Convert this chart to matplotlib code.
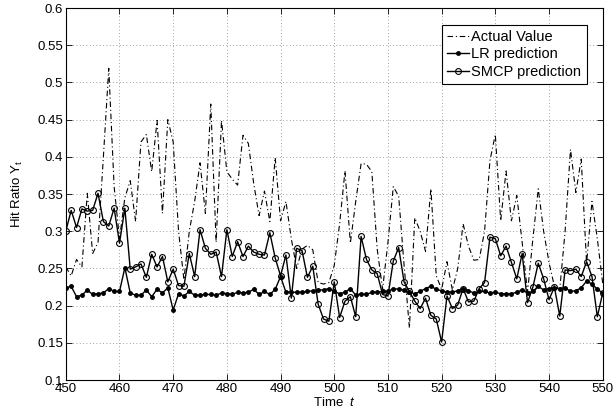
import matplotlib
matplotlib.use("Agg")
import matplotlib.pyplot as plt
from matplotlib.ticker import FuncFormatter, MultipleLocator

t = list(range(450, 551))

actual = [0.252, 0.240, 0.262, 0.252, 0.351, 0.270, 0.285, 0.400, 0.519, 0.360,
          0.290, 0.345, 0.368, 0.313, 0.420, 0.430, 0.380, 0.449, 0.324, 0.450,
          0.420, 0.300, 0.235, 0.300, 0.340, 0.392, 0.324, 0.471, 0.285, 0.449,
          0.380, 0.370, 0.362, 0.429, 0.418, 0.364, 0.321, 0.354, 0.313, 0.399,
          0.314, 0.340, 0.290, 0.250, 0.276, 0.281, 0.275, 0.231, 0.229, 0.231,
          0.254, 0.310, 0.381, 0.284, 0.340, 0.391, 0.390, 0.380, 0.276, 0.222,
          0.285, 0.360, 0.347, 0.255, 0.170, 0.318, 0.300, 0.273, 0.357, 0.240,
          0.222, 0.259, 0.221, 0.250, 0.310, 0.280, 0.261, 0.262, 0.300, 0.395,
          0.430, 0.314, 0.381, 0.314, 0.348, 0.285, 0.218, 0.290, 0.357, 0.300,
          0.258, 0.226, 0.222, 0.300, 0.410, 0.352, 0.397, 0.257, 0.340, 0.290,
          0.230]

lr = [0.224, 0.226, 0.212, 0.214, 0.221, 0.215, 0.216, 0.217, 0.223, 0.219,
      0.219, 0.251, 0.217, 0.214, 0.214, 0.221, 0.212, 0.222, 0.217, 0.224,
      0.194, 0.216, 0.213, 0.219, 0.214, 0.214, 0.215, 0.215, 0.214, 0.217,
      0.216, 0.215, 0.218, 0.217, 0.218, 0.222, 0.215, 0.219, 0.215, 0.222,
      0.239, 0.218, 0.218, 0.218, 0.218, 0.219, 0.220, 0.221, 0.221, 0.223,
      0.219, 0.216, 0.218, 0.223, 0.214, 0.216, 0.215, 0.218, 0.218, 0.219,
      0.219, 0.223, 0.222, 0.221, 0.218, 0.216, 0.219, 0.223, 0.226, 0.222,
      0.220, 0.218, 0.218, 0.220, 0.223, 0.220, 0.217, 0.219, 0.219, 0.217,
      0.218, 0.216, 0.216, 0.216, 0.218, 0.221, 0.217, 0.219, 0.226, 0.221,
      0.223, 0.224, 0.223, 0.224, 0.219, 0.220, 0.224, 0.233, 0.229, 0.222,
      0.217]

smcp = [0.300, 0.328, 0.305, 0.330, 0.327, 0.328, 0.351, 0.313, 0.307, 0.331,
        0.284, 0.331, 0.249, 0.252, 0.256, 0.238, 0.269, 0.252, 0.266, 0.232,
        0.249, 0.227, 0.226, 0.270, 0.239, 0.302, 0.277, 0.269, 0.272, 0.239,
        0.302, 0.266, 0.286, 0.266, 0.280, 0.272, 0.269, 0.268, 0.298, 0.264,
        0.240, 0.268, 0.210, 0.277, 0.274, 0.238, 0.253, 0.202, 0.182, 0.179,
        0.232, 0.184, 0.206, 0.212, 0.185, 0.293, 0.262, 0.248, 0.243, 0.215,
        0.213, 0.260, 0.278, 0.232, 0.219, 0.206, 0.196, 0.210, 0.187, 0.182,
        0.151, 0.213, 0.196, 0.201, 0.223, 0.205, 0.206, 0.223, 0.231, 0.292,
        0.290, 0.267, 0.280, 0.258, 0.236, 0.270, 0.204, 0.225, 0.257, 0.236,
        0.208, 0.225, 0.186, 0.248, 0.247, 0.249, 0.239, 0.259, 0.239, 0.185,
        0.217]

x_ticks = list(range(450, 551, 10))

plt.rcParams['font.family'] = ['Liberation Sans', 'DejaVu Sans']
plt.rcParams['mathtext.fontset'] = 'custom'
plt.rcParams['mathtext.rm'] = 'Liberation Sans'
plt.rcParams['mathtext.it'] = 'Liberation Sans:italic'

fig = plt.figure(figsize=(6.15, 4.17), dpi=100)
ax = fig.add_axes([0.107, 0.0887, 0.873, 0.892])

ax.plot(t, actual, color='black', linestyle=(0, (5, 2.5, 1, 2.5)), linewidth=0.8,
        label='Actual Value')
ax.plot(t, lr, color='black', linestyle='-', linewidth=1.0, marker='.',
        markersize=5, label='LR prediction')
ax.plot(t, smcp, color='black', linestyle='-', linewidth=1.0, marker='o',
        markersize=4.2, markerfacecolor='none', markeredgewidth=0.8,
        label='SMCP prediction')

ax.set_xlim(450, 550)
ax.set_ylim(0.1, 0.6)
ax.set_xticks(x_ticks)
ax.yaxis.set_major_locator(MultipleLocator(0.05))
ax.yaxis.set_major_formatter(FuncFormatter(lambda v, p: f'{v:g}'))
ax.grid(True, linestyle=(0, (1, 3)), color='#808080', linewidth=0.6)
ax.tick_params(direction='in', length=4, labelsize=9.5, top=True, right=True,
               width=0.6, pad=2)
for s in ax.spines.values():
    s.set_linewidth(0.8)

ax.set_xlabel(r'Time  $\it{t}$', fontsize=9.5, labelpad=1)
ax.set_ylabel(r'Hit Ratio Y$_\mathrm{t}$', fontsize=9.5, labelpad=9)

leg = ax.legend(loc='upper right', bbox_to_anchor=(0.970, 0.954), fontsize=10.5,
                frameon=True, fancybox=False, edgecolor='black', framealpha=1,
                handlelength=1.5, handletextpad=0.15, borderpad=0.35,
                labelspacing=0.22, borderaxespad=0)
leg.get_frame().set_linewidth(0.8)

fig.savefig('out.png', dpi=100)
